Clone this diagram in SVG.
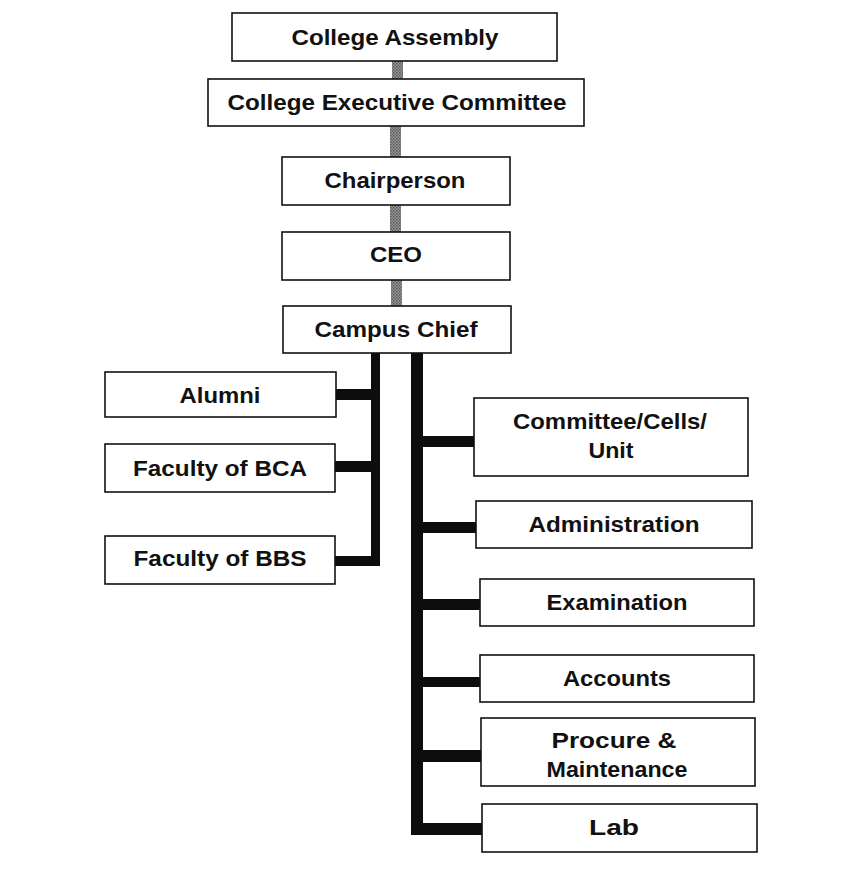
<svg xmlns="http://www.w3.org/2000/svg" width="863" height="873" viewBox="0 0 863 873">
<style>
.box{fill:#fff;stroke:#111;stroke-width:1.6}
.t{font-family:"Liberation Sans",Arial,sans-serif;font-weight:bold;font-size:22px;fill:#111;text-anchor:middle}
.bar{fill:#0d0d0d}
.gray{fill:url(#halftone)}
</style>
<defs>
<pattern id="halftone" width="3" height="3" patternUnits="userSpaceOnUse">
<rect width="3" height="3" fill="#9a9a9a"/>
<rect width="1.5" height="1.5" fill="#555"/>
<rect x="1.5" y="1.5" width="1.5" height="1.5" fill="#666"/>
</pattern>
</defs>
<rect width="863" height="873" fill="#fff"/>
<g id="connectors">
<rect class="gray" x="392" y="61" width="11" height="18"/>
<rect class="gray" x="390" y="126" width="11" height="31"/>
<rect class="gray" x="390" y="205" width="11" height="27"/>
<rect class="gray" x="391" y="280" width="11" height="26"/>
<rect class="bar" x="371" y="353" width="9" height="212"/>
<rect class="bar" x="336" y="389" width="44" height="11"/>
<rect class="bar" x="335" y="461" width="45" height="11"/>
<rect class="bar" x="335" y="556" width="45" height="10"/>
<rect class="bar" x="411" y="353" width="12" height="482"/>
<rect class="bar" x="411" y="436" width="63" height="11"/>
<rect class="bar" x="411" y="522" width="65" height="11"/>
<rect class="bar" x="411" y="599" width="69" height="11"/>
<rect class="bar" x="411" y="677" width="69" height="10"/>
<rect class="bar" x="411" y="750" width="70" height="12"/>
<rect class="bar" x="411" y="823" width="71" height="12"/>
</g>
<g id="college-assembly"><rect class="box" x="232" y="13" width="325" height="48"/><text class="t" x="395" y="45" textLength="207" lengthAdjust="spacingAndGlyphs">College Assembly</text></g>
<g id="college-executive-committee"><rect class="box" x="208" y="79" width="376" height="47"/><text class="t" x="397" y="110" textLength="339" lengthAdjust="spacingAndGlyphs">College Executive Committee</text></g>
<g id="chairperson"><rect class="box" x="282" y="157" width="228" height="48"/><text class="t" x="395" y="188" textLength="141" lengthAdjust="spacingAndGlyphs">Chairperson</text></g>
<g id="ceo"><rect class="box" x="282" y="232" width="228" height="48"/><text class="t" x="396" y="262" textLength="52" lengthAdjust="spacingAndGlyphs">CEO</text></g>
<g id="campus-chief"><rect class="box" x="283" y="306" width="228" height="47"/><text class="t" x="396" y="337" textLength="163" lengthAdjust="spacingAndGlyphs">Campus Chief</text></g>
<g id="alumni"><rect class="box" x="105" y="372" width="231" height="45"/><text class="t" x="220" y="403" textLength="81" lengthAdjust="spacingAndGlyphs">Alumni</text></g>
<g id="faculty-bca"><rect class="box" x="105" y="444" width="230" height="48"/><text class="t" x="220" y="476" textLength="174" lengthAdjust="spacingAndGlyphs">Faculty of BCA</text></g>
<g id="faculty-bbs"><rect class="box" x="105" y="536" width="230" height="48"/><text class="t" x="220" y="566" textLength="173" lengthAdjust="spacingAndGlyphs">Faculty of BBS</text></g>
<g id="committee"><rect class="box" x="474" y="398" width="274" height="78"/><text class="t" x="610" y="429" textLength="194" lengthAdjust="spacingAndGlyphs">Committee/Cells/</text><text class="t" x="611" y="458" textLength="45" lengthAdjust="spacingAndGlyphs">Unit</text></g>
<g id="administration"><rect class="box" x="476" y="501" width="276" height="47"/><text class="t" x="614" y="532" textLength="171" lengthAdjust="spacingAndGlyphs">Administration</text></g>
<g id="examination"><rect class="box" x="480" y="579" width="274" height="47"/><text class="t" x="617" y="610" textLength="141" lengthAdjust="spacingAndGlyphs">Examination</text></g>
<g id="accounts"><rect class="box" x="480" y="655" width="274" height="47"/><text class="t" x="617" y="686" textLength="108" lengthAdjust="spacingAndGlyphs">Accounts</text></g>
<g id="procure"><rect class="box" x="481" y="718" width="274" height="68"/><text class="t" x="614" y="748" textLength="125" lengthAdjust="spacingAndGlyphs">Procure &amp;</text><text class="t" x="617" y="777" textLength="141" lengthAdjust="spacingAndGlyphs">Maintenance</text></g>
<g id="lab"><rect class="box" x="482" y="804" width="275" height="48"/><text class="t" x="614" y="835" textLength="50" lengthAdjust="spacingAndGlyphs">Lab</text></g>
</svg>
